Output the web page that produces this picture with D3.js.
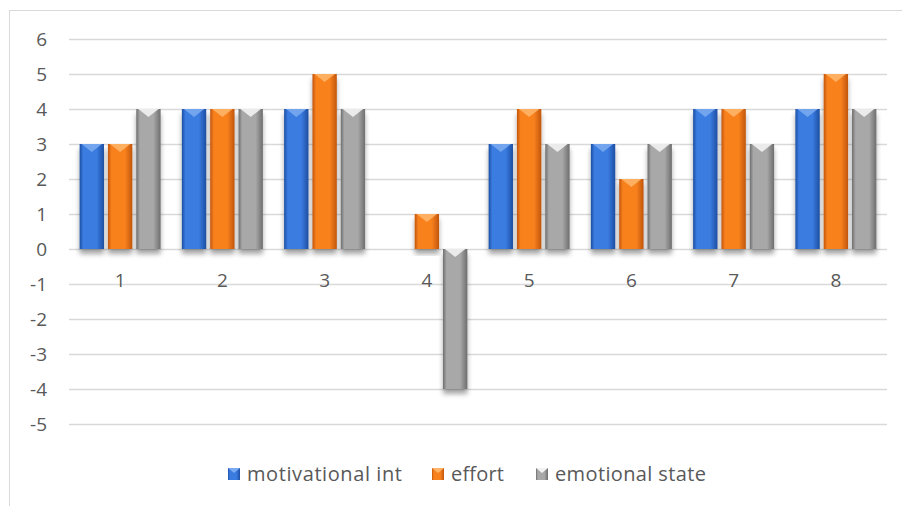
<!DOCTYPE html>
<html>
<head>
<meta charset="utf-8">
<script src="https://cdn.jsdelivr.net/npm/d3@7"></script>
<style>
  body { margin: 0; background: #fff; }
  text { font-family: "Open Sans", Lato, sans-serif; fill: #595959; }
</style>
</head>
<body>
<div id="chart"></div>
<script>
const categories = ["1", "2", "3", "4", "5", "6", "7", "8"]
const motivational = [3, 4, 4, 0, 3, 3, 4, 4]
const effort = [3, 4, 5, 1, 4, 2, 4, 5]
const emotional = [4, 4, 4, -4, 3, 3, 3, 4]
const seriesNames = ["motivational int", "effort", "emotional state"]
const yTicks = [6, 5, 4, 3, 2, 1, 0, -1, -2, -3, -4, -5]

const W = 902, H = 506
const plot = { left: 69, right: 887, top: 39, bottom: 424 }

const colors = [
    { mid: "#3a7be0", edge: "#1d4fa3", tip: "#7aaaf0" },
    { mid: "#f8811e", edge: "#c2560c", tip: "#ffb468" },
    { mid: "#a8a8a8", edge: "#6e6e6e", tip: "#f2f2f2" }
]

const svg = d3.select("#chart").append("svg")
    .attr("width", W)
    .attr("height", H)

const defs = svg.append("defs")

// outer chart border
svg.append("rect")
    .attr("x", 9.5).attr("y", 10.5)
    .attr("width", W).attr("height", H)
    .attr("fill", "none").attr("stroke", "#d9d9d9")

const y = d3.scaleLinear().domain([-5, 6]).range([plot.bottom, plot.top])
const x = d3.scaleBand().domain(categories).range([plot.left, plot.right])
const xs = d3.scaleBand().domain(d3.range(3)).range([-40.5, 40.5]).paddingInner(0.14)

// gridlines
svg.append("g")
    .selectAll("line")
    .data(yTicks)
    .enter().append("line")
    .attr("x1", plot.left).attr("x2", plot.right)
    .attr("y1", d => Math.round(y(d)) + 0.5)
    .attr("y2", d => Math.round(y(d)) + 0.5)
    .attr("stroke", "#d9d9d9").attr("stroke-width", 1.3)

// y labels
svg.append("g")
    .selectAll("text")
    .data(yTicks)
    .enter().append("text")
    .attr("x", 47)
    .attr("y", d => y(d))
    .attr("dy", "0.36em")
    .attr("text-anchor", "end")
    .style("font-size", "19px")
    .text(d => d)

// category labels
svg.append("g")
    .selectAll("text")
    .data(categories)
    .enter().append("text")
    .attr("x", d => x(d) + x.bandwidth() / 2)
    .attr("y", y(-1) + 3)
    .attr("text-anchor", "middle")
    .style("font-size", "19px")
    .text(d => d)

// gradients + shadow
colors.forEach(function (c, i) {
    const g = defs.append("linearGradient").attr("id", "grad" + i)
    g.selectAll("stop")
        .data([
            { o: "0%", c: c.edge },
            { o: "15%", c: c.mid },
            { o: "70%", c: c.mid },
            { o: "100%", c: c.edge }
        ])
        .enter().append("stop")
        .attr("offset", d => d.o)
        .attr("stop-color", d => d.c)
})

const filter = defs.append("filter").attr("id", "shadow")
    .attr("x", "-20%").attr("y", "-20%").attr("width", "140%").attr("height", "140%")
filter.append("feDropShadow")
    .attr("dx", 0).attr("dy", 5).attr("stdDeviation", 2.5)
    .attr("flood-color", "#000").attr("flood-opacity", 0.35)

const allSeries = [motivational, effort, emotional]
const barData = []
categories.forEach(function (cat, ci) {
    allSeries.forEach(function (vals, si) {
        if (vals[ci] !== 0) barData.push({ cat: cat, s: si, v: vals[ci] })
    })
})

const bw = xs.bandwidth()
const bars = svg.append("g")
    .selectAll("g")
    .data(barData)
    .enter().append("g")
    .attr("transform", d => "translate(" + (x(d.cat) + x.bandwidth() / 2 + xs(d.s)) + ",0)")

bars.append("rect")
    .attr("y", d => Math.min(y(d.v), y(0)))
    .attr("width", bw)
    .attr("height", d => Math.abs(y(d.v) - y(0)))
    .attr("fill", d => "url(#grad" + d.s + ")")
    .attr("filter", "url(#shadow)")

// bevel triangle at top of each bar
bars.append("path")
    .attr("d", function (d) {
        const top = Math.min(y(d.v), y(0))
        return "M2," + top + "L" + (bw - 2) + "," + top + "L" + (bw / 2) + "," + (top + 8) + "Z"
    })
    .attr("fill", d => colors[d.s].tip)
    .attr("opacity", 0.9)

// legend
const legendItems = [
    { name: seriesNames[0], x: 228, w: 155 },
    { name: seriesNames[1], x: 432, w: 53 },
    { name: seriesNames[2], x: 536, w: 151 }
]
const legend = svg.append("g")
    .selectAll("g")
    .data(legendItems)
    .enter().append("g")
    .attr("transform", d => "translate(" + d.x + ",468)")

legend.append("rect")
    .attr("width", 12).attr("height", 12)
    .attr("fill", (d, i) => "url(#grad" + i + ")")
legend.append("path")
    .attr("d", "M0,0L12,0L6,5Z")
    .attr("fill", (d, i) => colors[i].tip)
legend.append("text")
    .attr("x", 19).attr("y", 6)
    .attr("dy", "0.36em")
    .attr("textLength", d => d.w)
    .attr("lengthAdjust", "spacing")
    .style("font-size", "20px")
    .text(d => d.name)
</script>
</body>
</html>
